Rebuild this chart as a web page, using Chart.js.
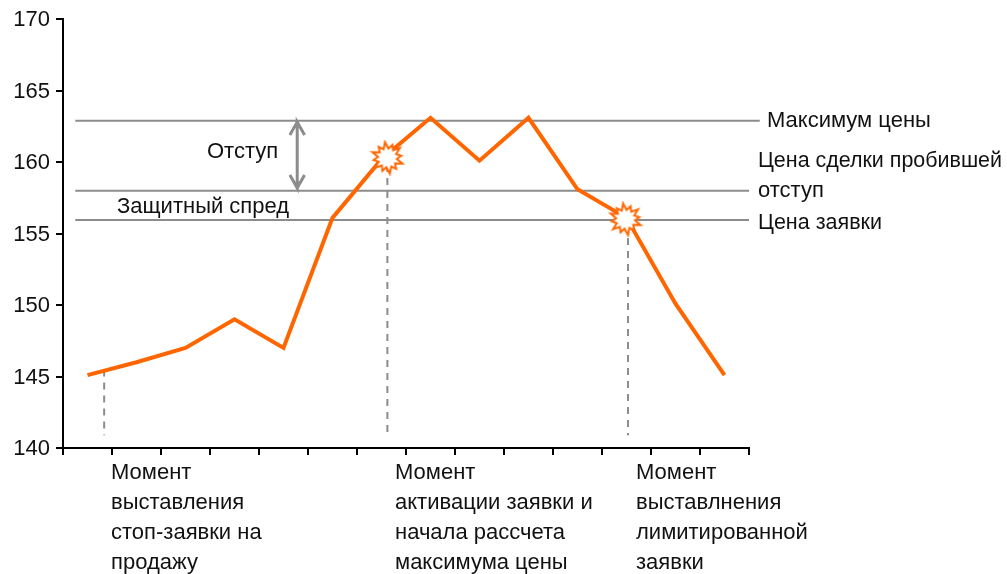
<!DOCTYPE html>
<html lang="ru">
<head>
    <meta charset="UTF-8">
    <title>Стоп-заявка</title>
    <script src="https://cdn.jsdelivr.net/npm/chart.js"></script>
    <style>
        html, body { margin: 0; padding: 0; background: #fff; }
        canvas { display: block; }
    </style>
</head>
<body>
    <canvas id="stopChart" width="1007" height="574"></canvas>
    <script>
        // values
        const periods = [0, 1, 2, 3, 4, 5, 6, 7, 8, 9, 10, 11, 12, 13];
        const prices = [145.1, 146, 147, 149, 147, 156.1, 160.2, 163.1, 160.1, 163.1, 158.1, 156.1, 150.1, 145.1];
        const priceTicks = [140, 145, 150, 155, 160, 165, 170];

        const maxPrice = 162.9, stopPrice = 158, orderPrice = 155.95;
        const levelStart = -0.25, levelEnd = 13.5, maxLevelEnd = 13.72;

        const momentX = [0.34, 6.12, 11.03];
        const momentTop = [145.5, 159.8, 155.6];
        const momentBottom = 140.9;

        const burstX = [6.12, 10.98];
        const burstY = [160.3, 156];

        const arrowX = 4.28;

        const sideLabels = ['Максимум цены', 'Цена сделки пробившей', 'отступ', 'Цена заявки'];
        const innerLabels = ['Отступ', 'Защитный спред'];
        const momentLabels = [
            ['Момент', 'выставления', 'стоп-заявки на', 'продажу'],
            ['Момент', 'активации заявки и', 'начала рассчета', 'максимума цены'],
            ['Момент', 'выставлнения', 'лимитированной', 'заявки']
        ];

        const ORANGE = '#ff6600';
        const GREY = '#8c8c8c';
        const FONT = '22px "Liberation Sans", Arial, sans-serif';

        // white star with an orange outline, used as point image
        function makeBurst() {
            const size = 36, c = document.createElement('canvas');
            c.width = size; c.height = size;
            const g = c.getContext('2d');
            const spikes = 12;
            g.beginPath();
            for (let i = 0; i < spikes * 2; i++) {
                const a = i * Math.PI / spikes - 1.2;
                const r = i % 2 ? 9.5 : (i % 4 ? 16 : 14);
                g.lineTo(size / 2 + r * Math.cos(a), size / 2 + r * Math.sin(a));
            }
            g.closePath();
            g.fillStyle = '#fff';
            g.fill();
            g.strokeStyle = ORANGE;
            g.lineWidth = 2;
            g.stroke();
            return c;
        }

        function level(y, end) {
            return {
                data: [{ x: levelStart, y: y }, { x: end, y: y }],
                borderColor: GREY, borderWidth: 2, pointRadius: 0, clip: false
            };
        }

        function dashed(i) {
            return {
                data: [{ x: momentX[i], y: momentTop[i] }, { x: momentX[i], y: momentBottom }],
                borderColor: GREY, borderWidth: 2, borderDash: [7, 6], pointRadius: 0
            };
        }

        // arrow shaft and heads, in data units
        const arrowData = [
            { x: arrowX - 0.15, y: 161.9 }, { x: arrowX, y: 162.8 }, { x: arrowX + 0.15, y: 161.9 },
            { x: arrowX, y: 162.8 }, { x: arrowX, y: 158.2 },
            { x: arrowX - 0.15, y: 159.1 }, { x: arrowX, y: 158.2 }, { x: arrowX + 0.15, y: 159.1 }
        ];

        const textPlugin = {
            id: 'texts',
            afterDatasetsDraw(chart) {
                const g = chart.ctx;
                g.save();
                g.font = FONT;
                g.fillStyle = '#111';
                g.textBaseline = 'middle';
                g.textAlign = 'left';
                g.fillText(sideLabels[0], 767, 121);
                g.fillText(sideLabels[1], 758, 161, 244);
                g.fillText(sideLabels[2], 758, 191);
                g.fillText(sideLabels[3], 758, 223, 124);
                g.fillText(innerLabels[0], 207, 152);
                g.fillText(innerLabels[1], 117, 207);
                const columns = [111, 395, 636];
                momentLabels.forEach((lines, i) => {
                    lines.forEach((line, j) => g.fillText(line, columns[i], 473 + j * 30));
                });
                g.restore();
            }
        };

        new Chart(document.getElementById('stopChart'), {
            type: 'line',
            data: {
                // first dataset ends up on top
                datasets: [
                    {
                        data: burstX.map((x, i) => ({ x: x, y: burstY[i] })),
                        showLine: false, pointStyle: makeBurst(), pointRadius: 18
                    },
                    {
                        data: periods.map((p, i) => ({ x: p, y: prices[i] })),
                        borderColor: ORANGE, borderWidth: 4, pointRadius: 0, borderJoinStyle: 'miter'
                    },
                    { data: arrowData, borderColor: GREY, borderWidth: 3, pointRadius: 0, clip: false },
                    dashed(0), dashed(1), dashed(2),
                    level(maxPrice, maxLevelEnd),
                    level(stopPrice, levelEnd),
                    level(orderPrice, levelEnd)
                ]
            },
            options: {
                responsive: false,
                animation: false,
                events: [],
                layout: { padding: { top: 18, right: 258, left: 0, bottom: 0 } },
                plugins: { legend: { display: false }, tooltip: { enabled: false } },
                scales: {
                    x: {
                        type: 'linear',
                        min: -0.5,
                        max: 13.5,
                        afterFit(scale) { scale.height = 126; },
                        afterBuildTicks(scale) {
                            scale.ticks = [{ value: -0.5 }].concat(periods.map(p => ({ value: p + 0.5 })));
                        },
                        border: { color: '#000', width: 2 },
                        grid: { drawOnChartArea: false, color: '#000', lineWidth: 2, tickLength: 7 },
                        ticks: { display: true, color: 'rgba(0,0,0,0)', callback: () => '', font: { size: 1 } }
                    },
                    y: {
                        min: 140,
                        max: 170,
                        afterFit(scale) { scale.width = 63; },
                        afterBuildTicks(scale) { scale.ticks = priceTicks.map(v => ({ value: v })); },
                        border: { color: '#000', width: 2 },
                        grid: { drawOnChartArea: false, color: '#000', lineWidth: 2, tickLength: 7 },
                        ticks: { color: '#111', font: { family: '"Liberation Sans", Arial, sans-serif', size: 22 }, padding: 6, labelOffset: 1 }
                    }
                }
            },
            plugins: [textPlugin]
        });
    </script>
</body>
</html>
